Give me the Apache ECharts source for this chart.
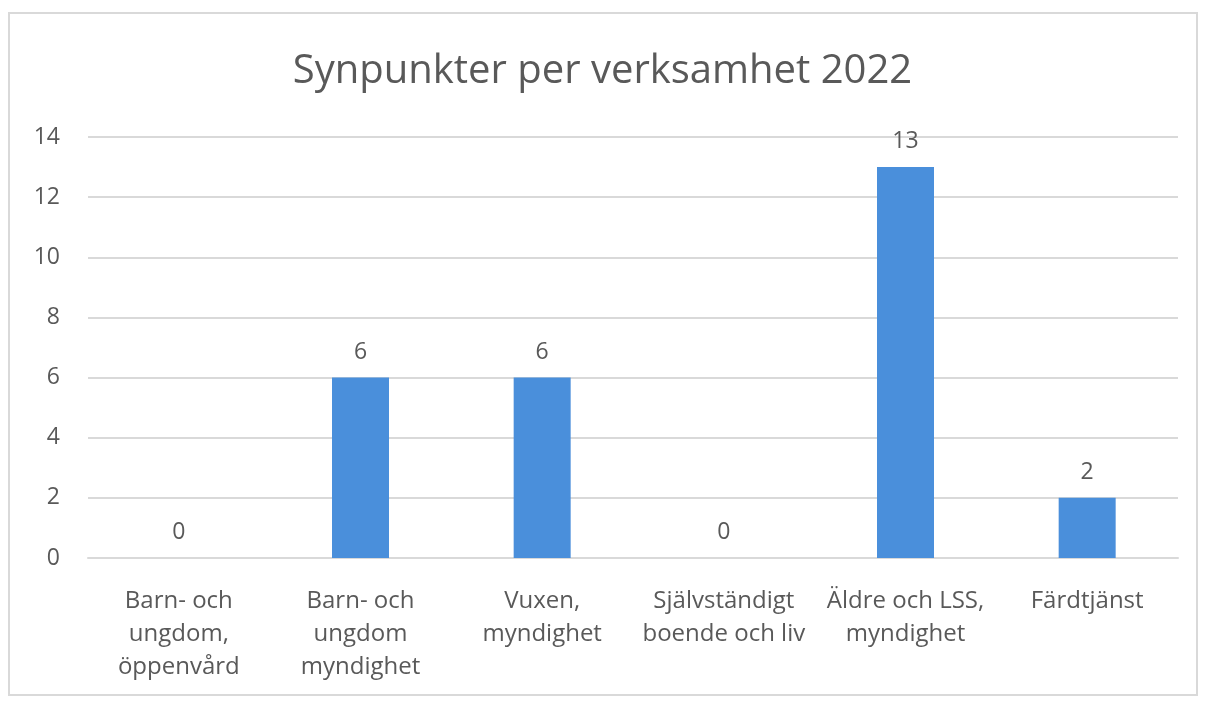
<!DOCTYPE html>
<html lang="sv">
<head>
  <meta charset="UTF-8">
  <title>Synpunkter per verksamhet 2022</title>
  <style>
    html, body { margin: 0; padding: 0; background: #fff; }
    #frame { position: absolute; left: 8px; top: 12px; width: 1190px; height: 684px; border: 2px solid #d9d9d9; box-sizing: border-box; }
    #main { position: absolute; left: 0; top: 0; width: 1205px; height: 701px; }
  </style>
</head>
<body>
  <div id="frame"></div>
  <div id="main"></div>

  <script src="https://cdn.jsdelivr.net/npm/echarts@6/dist/echarts.min.js"></script>
  <script type="text/javascript">
    var categories = [
      'Barn- och\nungdom,\nöppenvård',
      'Barn- och\nungdom\nmyndighet',
      'Vuxen,\nmyndighet',
      'Självständigt\nboende och liv',
      'Äldre och LSS,\nmyndighet',
      'Färdtjänst'
    ];
    var values = [0, 6, 6, 0, 13, 2];
    var yTicks = [0, 2, 4, 6, 8, 10, 12, 14];

    var textColor = '#595959';
    var font = 'Open Sans';

    var myChart = echarts.init(document.getElementById('main'));

    var option = {
      animation: false,
      title: {
        text: 'Synpunkter per verksamhet 2022',
        left: 'center',
        top: 47,
        textStyle: { color: textColor, fontFamily: font, fontSize: 40, fontWeight: 'normal' }
      },
      grid: { left: 88, right: 27, top: 137, bottom: 143 },
      xAxis: {
        type: 'category',
        data: categories,
        axisTick: { show: false },
        axisLine: { lineStyle: { color: '#d9d9d9', width: 2 } },
        axisLabel: {
          color: textColor,
          fontFamily: font,
          fontSize: 24,
          lineHeight: 33,
          margin: 27,
          interval: 0
        }
      },
      yAxis: {
        type: 'value',
        min: yTicks[0],
        max: yTicks[yTicks.length - 1],
        interval: 2,
        axisLine: { show: false },
        axisTick: { show: false },
        splitLine: { lineStyle: { color: '#d9d9d9', width: 2 } },
        axisLabel: { color: textColor, fontFamily: font, fontSize: 23, margin: 28 }
      },
      series: [{
        type: 'bar',
        data: values,
        barWidth: 57,
        itemStyle: { color: '#4a8fdb' },
        label: {
          show: true,
          position: 'top',
          distance: 14,
          color: textColor,
          fontFamily: font,
          fontSize: 23
        }
      }]
    };

    myChart.setOption(option);
  </script>
</body>
</html>
